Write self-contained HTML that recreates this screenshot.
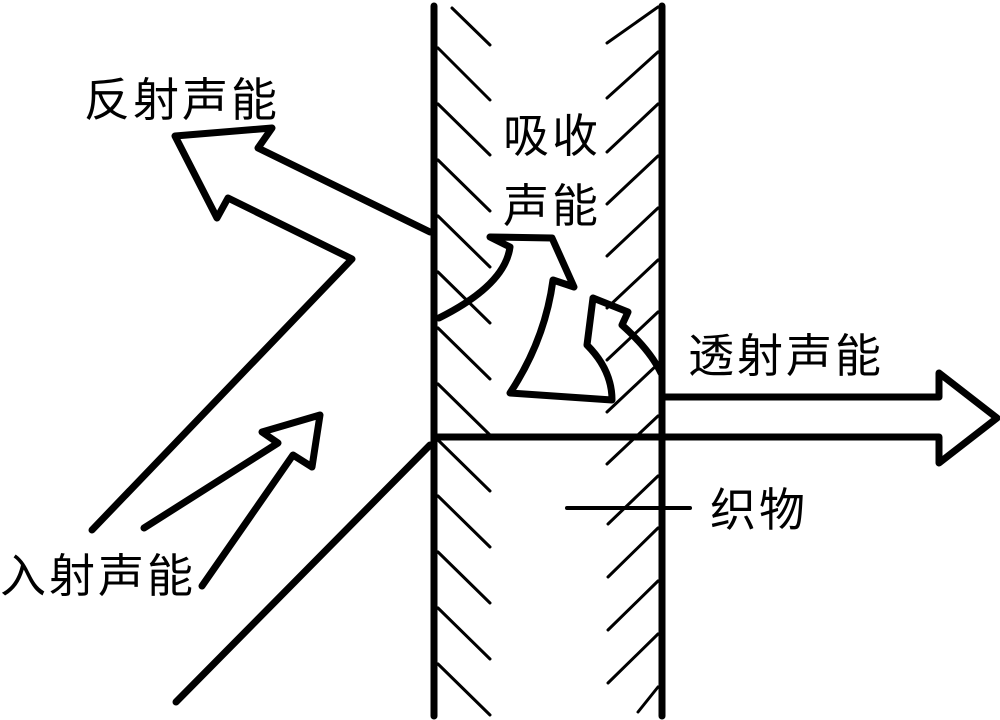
<!DOCTYPE html>
<html><head><meta charset="utf-8"><style>
html,body{margin:0;padding:0;background:#fff;}
svg{display:block}
text{font-family:"Liberation Sans","Noto Sans CJK SC",sans-serif;fill:#000;}
</style></head><body>
<svg width="1000" height="720" viewBox="0 0 1000 720" xmlns="http://www.w3.org/2000/svg">
<g stroke="#000" stroke-width="3" fill="none" stroke-linecap="round">
<line x1="452" y1="8" x2="490" y2="45"/>
<line x1="438" y1="48" x2="490" y2="100"/>
<line x1="438" y1="104" x2="490" y2="155"/>
<line x1="438" y1="160" x2="490" y2="211"/>
<line x1="438" y1="216" x2="490" y2="267"/>
<line x1="438" y1="272" x2="490" y2="323"/>
<line x1="438" y1="328" x2="490" y2="379"/>
<line x1="438" y1="384" x2="490" y2="435"/>
<line x1="438" y1="440" x2="490" y2="491"/>
<line x1="438" y1="496" x2="490" y2="547"/>
<line x1="438" y1="552" x2="490" y2="603"/>
<line x1="438" y1="608" x2="490" y2="659"/>
<line x1="438" y1="664" x2="490" y2="715"/>
<line x1="607" y1="43" x2="658" y2="7"/>
<line x1="607" y1="98" x2="658" y2="52"/>
<line x1="607" y1="152" x2="658" y2="104"/>
<line x1="607" y1="204" x2="658" y2="156"/>
<line x1="607" y1="256" x2="658" y2="208"/>
<line x1="607" y1="308" x2="658" y2="260"/>
<line x1="607" y1="360" x2="658" y2="312"/>
<line x1="607" y1="412" x2="658" y2="364"/>
<line x1="607" y1="464" x2="658" y2="416"/>
<line x1="608" y1="524" x2="658" y2="476"/>
<line x1="608" y1="577" x2="658" y2="528"/>
<line x1="608" y1="630" x2="658" y2="581"/>
<line x1="608" y1="683" x2="658" y2="634"/>
<line x1="638" y1="712" x2="658" y2="687"/>
</g>
<g stroke="#000" stroke-width="7" fill="none" stroke-linecap="round" stroke-linejoin="round">
<line x1="434" y1="6" x2="434" y2="716"/>
<line x1="662" y1="6" x2="662" y2="716"/>
<polyline points="430,232 258,148 272,128 175,136 217,218 228,198 352,259 92,530"/>
<polyline points="430,445 176,702"/>
<polyline points="144,528 278,443 262,432 320,415 312,467 293,455 202,586"/>
<polyline points="662,397 939,397 939,373 997,418 939,463 939,437 434,437"/>
<path d="M439,318 Q505,285 510,247 L490,237 L552,238 L574,287 L553,280 Q545,340 510,393 L612,400 Q612,370 587,345 L593,298 L628,312 L622,325 Q650,350 661,373"/>
<line x1="567" y1="508" x2="690" y2="508" stroke-width="4"/>
</g>
<g font-size="46" letter-spacing="3">
<text x="84" y="116">反射声能</text>
<text x="503" y="152">吸收</text>
<text x="503" y="222">声能</text>
<text x="688" y="372">透射声能</text>
<text x="710" y="526">织物</text>
<text x="0" y="592">入射声能</text>
</g>
</svg>
</body></html>
